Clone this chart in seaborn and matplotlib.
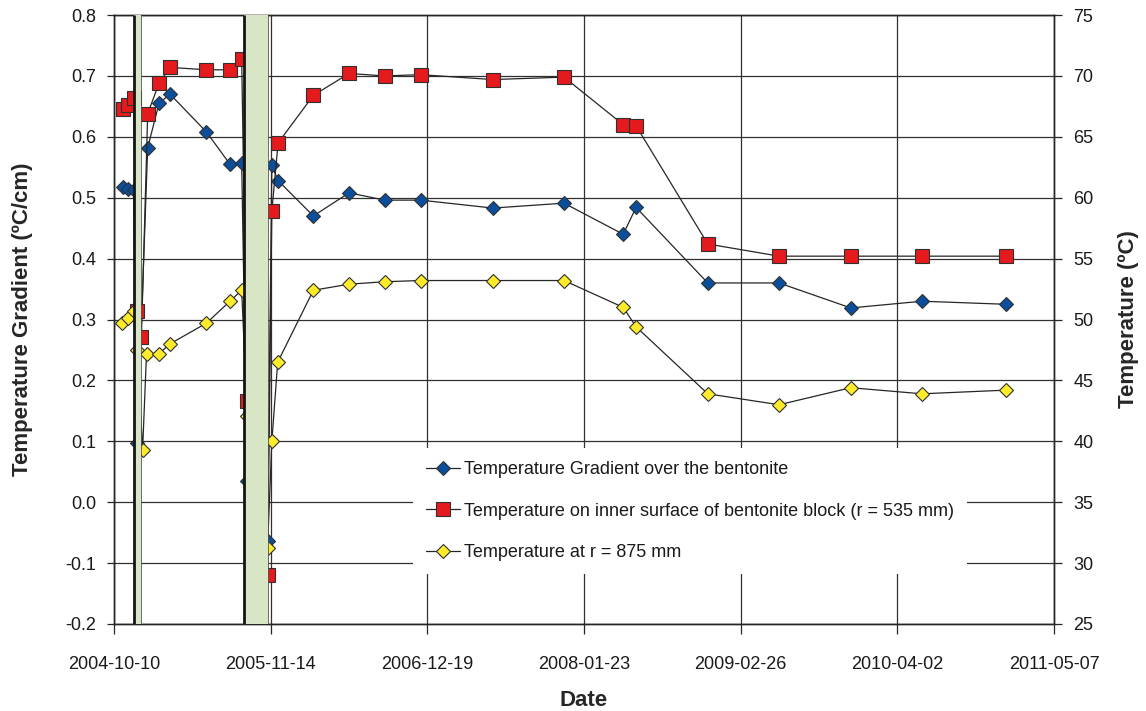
import numpy as np
import pandas as pd
import matplotlib
matplotlib.use("Agg")
import matplotlib.pyplot as plt
import matplotlib.dates as mdates
from matplotlib.ticker import FixedLocator, FormatStrFormatter
import seaborn as sns

# ---- data -----------------------------------------------------------------
tick_dates = ["2004-10-10", "2005-11-14", "2006-12-19", "2008-01-23",
              "2009-02-26", "2010-04-02", "2011-05-07"]

gradient_dates = ["2004-11-03", "2004-11-16", "2004-11-29", "2004-12-08",
                  "2005-01-04", "2005-02-02", "2005-03-02", "2005-06-03",
                  "2005-08-02", "2005-09-01", "2005-09-15", "2005-11-06",
                  "2005-11-17", "2005-12-03", "2006-03-03", "2006-06-02",
                  "2006-09-01", "2006-12-02", "2007-06-04", "2007-12-03",
                  "2008-05-02", "2008-06-04", "2008-12-04", "2009-06-04",
                  "2009-12-04", "2010-06-04", "2011-01-04"]
gradient_values = [0.517, 0.515, 0.512, 0.097, 0.582, 0.655, 0.670, 0.608,
                   0.555, 0.557, 0.035, -0.064, 0.553, 0.528, 0.470, 0.508,
                   0.496, 0.496, 0.483, 0.491, 0.440, 0.484, 0.360, 0.360,
                   0.319, 0.330, 0.325]

inner_dates = ["2004-11-03", "2004-11-16", "2004-11-29", "2004-12-08",
               "2004-12-19", "2005-01-04", "2005-02-02", "2005-03-02",
               "2005-06-03", "2005-08-02", "2005-09-01", "2005-09-15",
               "2005-11-06", "2005-11-17", "2005-12-03", "2006-03-03",
               "2006-06-02", "2006-09-01", "2006-12-02", "2007-06-04",
               "2007-12-03", "2008-05-02", "2008-06-04", "2008-12-04",
               "2009-06-04", "2009-12-04", "2010-06-04", "2011-01-04"]
inner_values = [67.3, 67.6, 68.2, 50.7, 48.6, 66.9, 69.4, 70.7, 70.5, 70.5,
                71.4, 43.3, 29.0, 58.9, 64.5, 68.4, 70.2, 70.0, 70.1, 69.7,
                69.9, 66.0, 65.9, 56.2, 55.2, 55.2, 55.2, 55.2]

outer_dates = ["2004-10-31", "2004-11-16", "2004-11-29", "2004-12-08",
               "2004-12-22", "2005-01-01", "2005-02-02", "2005-03-02",
               "2005-06-03", "2005-08-02", "2005-09-01", "2005-09-15",
               "2005-11-06", "2005-11-17", "2005-12-02", "2006-03-03",
               "2006-06-02", "2006-09-01", "2006-12-02", "2007-06-04",
               "2007-12-03", "2008-05-02", "2008-06-04", "2008-12-04",
               "2009-06-04", "2009-12-04", "2010-06-04", "2011-01-04"]
outer_values = [49.7, 50.1, 50.7, 47.5, 39.3, 47.2, 47.2, 48.0, 49.7, 51.5,
                52.4, 42.1, 31.2, 40.0, 46.5, 52.4, 52.9, 53.1, 53.2, 53.2,
                53.2, 51.0, 49.4, 43.9, 43.0, 44.4, 43.9, 44.2]

# shaded interruption periods
pause_start = ["2004-12-01", "2005-09-07"]
pause_end = ["2004-12-19", "2005-11-06"]

series_labels = ["Temperature Gradient over the bentonite",
                 "Temperature on inner surface of bentonite block (r = 535 mm)",
                 "Temperature at r = 875 mm"]

# ---- style ----------------------------------------------------------------
sns.set_theme(style="white")
plt.rcParams["font.family"] = ["Liberation Sans", "DejaVu Sans"]
plt.rcParams["text.color"] = "#1a1a1a"

BLUE = "#0b4f9c"
RED = "#e41a1c"
YELLOW = "#ffeb2a"
GREEN = "#d8e6c5"
INK = "#262626"


def num(dates):
    return mdates.date2num(pd.to_datetime(dates))


fig = plt.figure(figsize=(11.46, 7.11), dpi=100)
ax = fig.add_axes([114 / 1146, 1 - 624 / 711, 940 / 1146, 609 / 711])
ax2 = ax.twinx()

line_kw = dict(color=INK, linewidth=0.9, estimator=None, sort=False,
               legend=False, markeredgecolor="#303030", markeredgewidth=0.8)

sns.lineplot(x=num(gradient_dates), y=gradient_values, ax=ax, marker="D",
             markersize=7.2, markerfacecolor=BLUE, zorder=3, **line_kw)
sns.lineplot(x=num(inner_dates), y=inner_values, ax=ax2, marker="s",
             markersize=10, markerfacecolor=RED, zorder=3, **line_kw)
sns.lineplot(x=num(outer_dates), y=outer_values, ax=ax2, marker="D",
             markersize=7.2, markerfacecolor=YELLOW, zorder=4, **line_kw)

# shaded periods sit in front of the series
starts, ends = num(pause_start), num(pause_end)
ax2.bar(starts, 50, width=ends - starts, bottom=25, align="edge",
        color=GREEN, edgecolor="none", zorder=6)
ax2.vlines(starts, 25, 75, color="#151515", linewidth=2.0, zorder=7)
ax2.vlines(ends, 25, 75, color="#555555", linewidth=0.6, zorder=7)

# ---- axes -----------------------------------------------------------------
xt = num(tick_dates)
ax.set_xlim(xt[0], xt[-1])
ax.xaxis.set_major_locator(FixedLocator(xt))
ax.set_xticklabels(tick_dates)

ax.set_ylim(-0.2, 0.8)
ax.set_yticks(np.round(np.arange(-0.2, 0.81, 0.1), 1))
ax.yaxis.set_major_formatter(FormatStrFormatter("%.1f"))
ax2.set_ylim(25, 75)
ax2.set_yticks(np.arange(25, 76, 5))

ax.grid(True, color="#303030", linewidth=0.9)
ax2.grid(False)
for a in (ax, ax2):
    for s in a.spines.values():
        s.set_color(INK)
        s.set_linewidth(1.0)
    a.set_facecolor("none")

ax.tick_params(axis="y", direction="out", length=5, width=0.9, color=INK,
               pad=8, labelsize=13, labelcolor="#1a1a1a", left=True)
ax.tick_params(axis="x", direction="out", length=7, width=0.9, color=INK,
               pad=16, labelsize=13, labelcolor="#1a1a1a", bottom=True)
ax2.tick_params(axis="y", direction="out", length=6, width=0.9, color=INK,
                pad=8, labelsize=13, labelcolor="#1a1a1a", right=True)

ax.set_xlabel("Date", fontsize=16, fontweight="bold")
ax.xaxis.set_label_coords(0.5, -0.108)
ax.set_ylabel("Temperature Gradient (ºC/cm)", fontsize=16, fontweight="bold")
ax.yaxis.set_label_coords(-0.086, 0.5)
ax2.set_ylabel("Temperature (ºC)", fontsize=16, fontweight="bold")
ax2.yaxis.set_label_coords(1.068, 0.5)

handles = [ax.lines[0], ax2.lines[0], ax2.lines[1]]
leg = ax2.legend(handles, series_labels, loc="upper left",
                 bbox_to_anchor=(0.3186, 0.289), borderaxespad=0,
                 fontsize=13, frameon=True, facecolor="white",
                 edgecolor="none", framealpha=1, fancybox=False,
                 borderpad=0.72, labelspacing=1.37,
                 handlelength=1.86, handletextpad=0.23)
leg.set_zorder(20)

fig.savefig("out.png", dpi=100)
